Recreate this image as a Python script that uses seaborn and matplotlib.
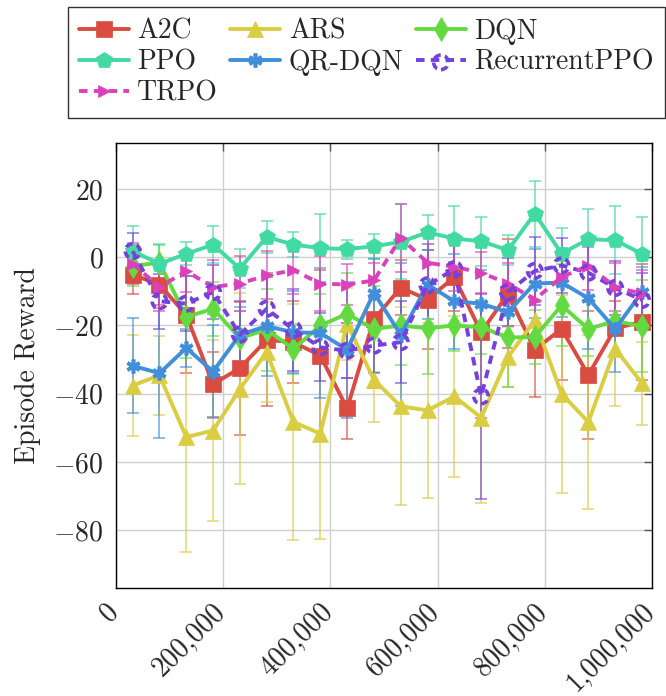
import numpy as np
import pandas as pd
import matplotlib
matplotlib.use("Agg")
import matplotlib.pyplot as plt
from matplotlib.ticker import FuncFormatter, FixedLocator
from matplotlib.transforms import ScaledTranslation
from matplotlib.legend_handler import HandlerTuple
import seaborn as sns

# ---------------- data ----------------
steps = [31250 + 50000 * i for i in range(20)]

algos = ["A2C", "ARS", "DQN", "PPO", "QR-DQN", "RecurrentPPO", "TRPO"]

a2c_mean = [-5.1, -8.0, -16.9, -37.2, -32.5, -24.2, -24.9, -28.8, -44.3, -18.2,
            -8.9, -12.4, -5.8, -22.0, -10.7, -27.1, -21.0, -34.5, -20.8, -19.0]
a2c_err = [5.8, 6, 17, 9.5, 19.5, 19.5, 12, 25, 9, 20,
           8, 14.5, 10, 25, 16, 14, 15, 18.7, 8, 17]

ars_mean = [-37.6, -34.6, -52.7, -50.8, -38.6, -27.8, -48.3, -51.7, -19.5, -35.9,
            -43.7, -44.9, -40.8, -47.0, -29.3, -18.5, -40.0, -48.3, -26.8, -36.9]
ars_err = [14.8, 11.6, 33.7, 26.6, 28, 14.6, 34.5, 31, 10.5, 12.3,
           29, 25.6, 23.5, 25, 8.8, 10.3, 29, 25.6, 16.8, 12.2]

dqn_mean = [-2.5, -1.6, -17.5, -15.1, -23.7, -21.2, -26.9, -20.0, -16.6, -21.0,
            -20.0, -20.8, -20.0, -20.5, -23.5, -23.4, -14.1, -21.0, -18.7, -20.2]
dqn_err = [6, 5.3, 12, 8, 8, 12, 7.3, 9.3, 12, 12.7,
           11.6, 13.4, 7.4, 8, 14.6, 8, 12, 8, 10, 13.4]

ppo_mean = [1.8, -1.9, 1.0, 3.7, -3.3, 6.0, 3.7, 2.7, 2.4, 3.2,
            4.5, 7.3, 5.5, 4.7, 2.1, 12.8, 1.1, 5.3, 5.0, 1.0]
ppo_err = [7.4, 5.7, 3.4, 5.4, 5.8, 4.6, 3.6, 10.0, 2.8, 3.5,
           11.0, 5.2, 9.6, 7.2, 4.4, 9.7, 7.6, 8.8, 9.9, 10.7]

qrdqn_mean = [-31.8, -34.0, -26.6, -33.5, -22.7, -20.2, -22.0, -22.2, -27.1, -10.4,
              -22.7, -8.0, -12.9, -13.6, -16.1, -7.7, -7.4, -12.0, -21.0, -10.2]
qrdqn_err = [14, 19, 5.5, 13.5, 8, 14.5, 12, 19, 20, 10,
             21, 10, 14, 10, 8, 10, 10, 15, 12.7, 7.4]

rppo_mean = [1.8, -12.9, -13.6, -10.2, -22.7, -15.1, -21.2, -26.4, -27.4, -25.9,
             -24.9, -8.2, -3.5, -40.8, -10.2, -4.0, -2.4, -4.5, -9.0, -12.5]
rppo_err = [5.2, 8, 8, 8, 10, 10, 12, 10, 8, 8,
            12, 12, 10, 30, 10, 10, 8, 8, 8, 8]

trpo_mean = [-1.9, -8.7, -4.1, -8.7, -7.7, -5.3, -3.8, -7.7, -8.0, -6.8,
             5.7, -1.6, -2.8, -4.5, -7.7, -12.4, -5.8, -2.5, -8.7, -10.7]
trpo_err = [6, 7, 6, 8, 8, 7, 7, 8, 6, 5,
            10, 8, 7, 6, 6, 8, 8, 7, 7, 7]

means = [a2c_mean, ars_mean, dqn_mean, ppo_mean, qrdqn_mean, rppo_mean, trpo_mean]
errs = [a2c_err, ars_err, dqn_err, ppo_err, qrdqn_err, rppo_err, trpo_err]

xticks = [0, 200000, 400000, 600000, 800000, 1000000]
yticks = [-80, -60, -40, -20, 0, 20]

# ---------------- style ----------------
sns.set_theme(style="whitegrid")
plt.rcParams["font.family"] = ["serif"]
plt.rcParams["font.serif"] = ["cmr10", "DejaVu Serif"]
plt.rcParams["mathtext.fontset"] = "cm"
plt.rcParams["axes.formatter.use_mathtext"] = True

FS = 20
palette = sns.hls_palette(7, h=0.01, l=0.555, s=0.67)
markers = {"A2C": "s", "ARS": "^", "DQN": "d", "PPO": "p",
           "QR-DQN": (6, 2, 0), "RecurrentPPO": "o", "TRPO": ">"}
msizes = {"A2C": 11, "ARS": 12, "DQN": 12, "PPO": 12,
          "QR-DQN": 10, "RecurrentPPO": 10.5, "TRPO": 9}
dashed = {"RecurrentPPO", "TRPO"}

df = pd.DataFrame({
    "step": np.tile(steps, len(algos)),
    "reward": np.concatenate(means),
    "err": np.concatenate(errs),
    "algo": np.repeat(algos, len(steps)),
})

fig = plt.figure(figsize=(6.66, 6.96), dpi=100)
ax = fig.add_axes([0.174, 0.155, 0.805, 0.6395])

handles = {}
for i, name in enumerate(algos):
    sub = df[df["algo"] == name]
    col = palette[i]
    ax.errorbar(sub["step"], sub["reward"], yerr=sub["err"], fmt="none",
                ecolor=col, elinewidth=1.3, capsize=4.5, capthick=1.3,
                alpha=0.65, zorder=2)
    kw = dict(color=col, linewidth=2.8)
    if name != "RecurrentPPO":
        kw.update(marker=markers[name], markersize=msizes[name])
    if name == "QR-DQN":
        kw.update(markeredgewidth=2.6, markeredgecolor=col)
    elif name != "RecurrentPPO":
        kw.update(markeredgecolor=col, markeredgewidth=0.5)
    if name in dashed:
        kw.update(linestyle=(0, (2.2, 1.6)))
    sns.lineplot(data=sub, x="step", y="reward", ax=ax, label=name,
                 legend=False, zorder=3, **kw)
    line = ax.lines[-1]
    if name == "RecurrentPPO":
        sc = ax.scatter(sub["step"], sub["reward"], s=msizes[name] ** 2,
                        facecolors="none", edgecolors=[col], linewidths=2.6,
                        linestyles=(0, (2.0, 1.2)), zorder=4)
        handles[name] = (line, sc)
    else:
        handles[name] = line

ax.set_xlim(0, 1000000)
ax.set_ylim(-97, 33.5)
ax.xaxis.set_major_locator(FixedLocator(xticks))
ax.yaxis.set_major_locator(FixedLocator(yticks))
ax.xaxis.set_major_formatter(FuncFormatter(lambda v, p: f"{int(v):,}"))
ax.yaxis.set_major_formatter(FuncFormatter(lambda v, p: f"${int(v)}$" if v < 0 else f"{int(v)}"))

ax.grid(True, color="#cfcfcf", linewidth=1.0)
for s in ax.spines.values():
    s.set_color("black")
    s.set_linewidth(1.0)
ax.tick_params(axis="both", which="both", direction="in", length=6, width=1,
               color="#555555", top=True, right=True, labelsize=FS)
ax.tick_params(axis="y", pad=9)
ax.tick_params(axis="x", pad=14)
shift = ScaledTranslation(-2 / 100, 0, fig.dpi_scale_trans)
for lab in ax.get_xticklabels():
    lab.set_rotation(45)
    lab.set_ha("right")
    lab.set_va("center")
    lab.set_rotation_mode("anchor")
    lab.set_transform(lab.get_transform() + shift)

ax.set_xlabel("")
ax.set_ylabel("Episode Reward", fontsize=FS, labelpad=9)

order = ["A2C", "PPO", "TRPO", "ARS", "QR-DQN", "DQN", "RecurrentPPO"]
leg = fig.legend([handles[n] for n in order], order, loc="upper center",
                 bbox_to_anchor=(0.55, 0.99), ncol=3, fontsize=FS,
                 frameon=True, fancybox=False, edgecolor="black",
                 handlelength=1.8, handletextpad=0.3, columnspacing=0.45,
                 labelspacing=0.17, borderpad=0.4, borderaxespad=0,
                 scatterpoints=1,
                 handler_map={tuple: HandlerTuple(ndivide=1)})
leg.get_frame().set_linewidth(1.0)

fig.savefig("out.png", dpi=100)
